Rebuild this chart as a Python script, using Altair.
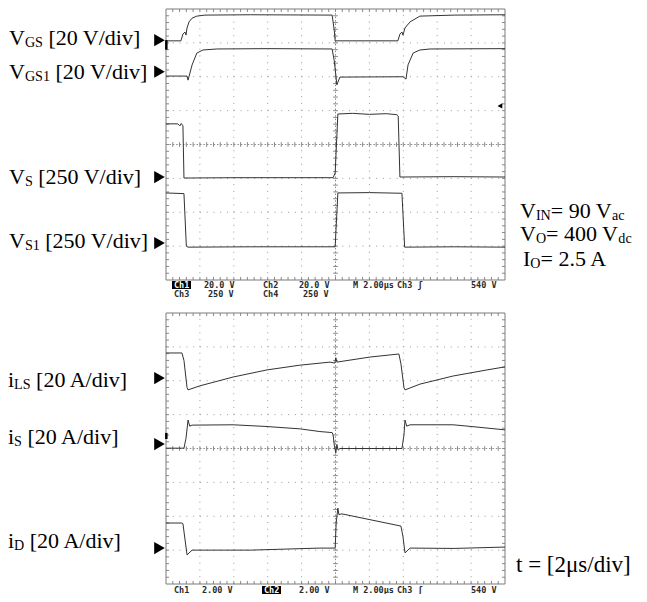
import altair as alt
import pandas as pd
import numpy as np

# ---- oscilloscope traces: t in divisions (2 us/div), level in screen divisions (0..8) ----
# upper screen
vgs_t = [0, 0.44, 0.50, 0.56, 0.59, 0.62, 0.68, 0.77, 0.91, 1.15, 2.5, 4.90, 4.96, 4.99, 6.84, 6.90, 6.96, 6.99, 7.05, 7.20, 7.49, 8.5, 10]
vgs_v = [7.06, 7.06, 7.26, 7.32, 7.23, 7.44, 7.62, 7.73, 7.79, 7.82, 7.83, 7.82, 7.40, 7.06, 7.06, 7.26, 7.32, 7.23, 7.44, 7.62, 7.79, 7.82, 7.83]

vgs1_t = [0, 0.62, 0.65, 0.77, 0.91, 1.09, 1.50, 3.0, 4.90, 4.96, 5.0, 5.04, 5.13, 6.99, 7.08, 7.14, 7.29, 7.49, 7.79, 10]
vgs1_v = [6.02, 6.02, 5.90, 6.35, 6.70, 6.79, 6.82, 6.83, 6.82, 6.49, 6.14, 5.76, 5.99, 6.00, 5.93, 6.35, 6.70, 6.79, 6.82, 6.83]

vs_t = [0, 0.35, 0.41, 0.45, 0.50, 0.53, 2.0, 4.93, 4.99, 5.07, 5.5, 6.0, 6.5, 6.81, 6.85, 6.90, 8.5, 10]
vs_v = [4.61, 4.61, 4.55, 4.62, 4.55, 3.01, 3.02, 3.02, 3.16, 4.90, 4.92, 4.89, 4.91, 4.88, 4.84, 3.04, 3.05, 3.04]

vs1_t = [0, 0.53, 0.60, 0.65, 2.5, 4.99, 5.07, 6.0, 6.96, 7.04, 8.5, 10]
vs1_v = [2.57, 2.55, 1.00, 0.97, 0.98, 0.98, 2.57, 2.58, 2.56, 0.97, 0.98, 0.97]

# lower screen
ils_t = [0, 0.47, 0.53, 0.62, 0.65, 1.00, 1.98, 2.98, 3.95, 4.84, 4.98, 5.01, 5.04, 6.02, 6.87, 6.93, 7.02, 7.05, 7.49, 8.47, 9.47, 10]
ils_v = [6.82, 6.82, 6.60, 5.80, 5.73, 5.85, 6.11, 6.32, 6.46, 6.55, 6.52, 6.68, 6.55, 6.70, 6.79, 6.50, 5.80, 5.73, 5.90, 6.14, 6.32, 6.41]

is_t = [0, 0.53, 0.59, 0.65, 0.70, 0.77, 1.98, 2.95, 3.95, 4.54, 4.90, 4.93, 4.97, 5.01, 5.04, 5.08, 5.13, 6.96, 7.02, 7.05, 7.10, 7.20, 8.47, 9.0, 10]
is_v = [4.01, 4.01, 4.30, 4.84, 4.66, 4.69, 4.70, 4.65, 4.58, 4.50, 4.47, 4.40, 4.05, 3.87, 4.12, 3.95, 4.00, 4.00, 4.40, 4.84, 4.66, 4.70, 4.70, 4.65, 4.55]

id_t = [0, 0.47, 0.50, 0.62, 0.77, 2.5, 4.54, 4.99, 5.02, 5.07, 5.10, 5.19, 6.93, 6.99, 7.05, 7.20, 8.5, 10]
id_v = [1.80, 1.80, 1.78, 0.86, 1.00, 1.00, 1.06, 1.06, 1.80, 2.24, 2.05, 2.07, 1.71, 1.40, 0.92, 1.06, 1.05, 1.09]

# ground-level markers (screen divisions)
top_markers = [7.08, 6.15, 3.04, 1.09]
bot_markers = [6.08, 4.13, 1.06]

# ---- text (pieces: m = normal, s = subscript); start x / baseline y in page pixels, font size ----
labels = [
    ([("V", "m"), ("GS", "s"), (" [20 V/div]", "m")], 9, 45, 22),
    ([("V", "m"), ("GS1", "s"), (" [20 V/div]", "m")], 9, 79, 22),
    ([("V", "m"), ("S", "s"), (" [250 V/div]", "m")], 9, 184, 22),
    ([("V", "m"), ("S1", "s"), (" [250 V/div]", "m")], 9, 248, 22),
    ([("V", "m"), ("IN", "s"), ("= 90 V", "m"), ("ac", "s")], 520, 218, 22),
    ([("V", "m"), ("O", "s"), ("= 400 V", "m"), ("dc", "s")], 520, 241, 22),
    ([("I", "m"), ("O", "s"), ("= 2.5 A", "m")], 523, 266, 22),
    ([("i", "m"), ("LS", "s"), (" [20 A/div]", "m")], 8, 387, 22),
    ([("i", "m"), ("S", "s"), (" [20 A/div]", "m")], 8, 444, 22),
    ([("i", "m"), ("D", "s"), (" [20 A/div]", "m")], 8, 548, 22),
    ([("t = [2\u03bcs/div]", "m")], 516, 572, 23),
]
status = [("Ch1", 174, 285), ("20.0 V", 204, 285), ("Ch2", 263, 285), ("20.0 V", 299, 285),
          ("M 2.00\u00b5s", 353, 285), ("Ch3 \u0283", 397, 285), ("540 V", 471, 285),
          ("Ch3", 174, 293.5), ("250 V", 208, 293.5), ("Ch4", 263, 293.5), ("250 V", 303, 293.5),
          ("Ch1", 174, 589.8), ("2.00 V", 202, 589.8), ("Ch2", 264, 589.8), ("2.00 V", 299, 589.8),
          ("M 2.00\u00b5s", 353, 589.8), ("Ch3 \u0283", 397, 589.8), ("540 V", 471, 589.8),
          ("Ch4", 264, 599), ("2.00 V", 299, 599)]
inverse_boxes = [(172, 191, 281, 289), (262, 281, 586, 594)]
inverse_text = [0, 13]

# ---- screen geometry (pixels) ----
PX0, PW = 166, 339
PTOP, PBOT = 9, 584           # top of upper screen, bottom of lower screen
SCR_H = 271
DX, DY = PW / 10, SCR_H / 8
TOP_OFF = (PBOT - 280) / DY   # upper screen baseline in global divisions
H = PBOT - PTOP
SUB_RATIO = 0.64
SERIF = "Liberation Serif"
TIMES_W = {'V': 722, 'G': 722, 'S': 556, '1': 500, 'I': 333, 'N': 722, 'O': 722, 'a': 444, 'c': 444,
           'd': 500, 'L': 611, 'D': 722, 'i': 278, ' ': 250, '[': 333, ']': 333, '/': 278, '=': 564,
           '.': 250, 'A': 722, 't': 278, '\u03bc': 500, 's': 389, 'v': 500}


def tw(s, size):
    return sum(TIMES_W.get(ch, 500) for ch in s) / 1000 * size


def gx(px):
    return (px - PX0) / DX


def gy(py):
    return (PBOT - py) / DY


X = alt.Scale(domain=[0, 10], nice=False, zero=False)
Y = alt.Scale(domain=[0, H / DY], nice=False, zero=False)
XE = dict(scale=X, axis=None)
YE = dict(scale=Y, axis=None)
GRID = "#9a9a9a"
TRACE = "#333333"


def screen_layers(off):
    layers = []
    vx = [1, 2, 3, 4, 6, 7, 8, 9]
    hy = [1, 2, 3, 5, 6, 7]
    vg = pd.DataFrame({"x": vx, "y": off, "y2": off + 8})
    layers.append(alt.Chart(vg).mark_rule(color=GRID, strokeWidth=1, strokeDash=[1, DY / 5 - 1])
                  .encode(x=alt.X("x:Q", **XE), y=alt.Y("y:Q", **YE), y2="y2:Q"))
    hg = pd.DataFrame({"y": [h + off for h in hy], "x": 0, "x2": 10})
    layers.append(alt.Chart(hg).mark_rule(color=GRID, strokeWidth=1, strokeDash=[1, DX / 5 - 1])
                  .encode(y=alt.Y("y:Q", **YE), x=alt.X("x:Q", **XE), x2="x2:Q"))
    cl = pd.DataFrame({"x": [5, 0], "x2": [5, 10], "y": [off, off + 4], "y2": [off + 8, off + 4]})
    layers.append(alt.Chart(cl).mark_rule(color="#8a8a8a", strokeWidth=1, strokeDash=[1.5, 1.9])
                  .encode(x=alt.X("x:Q", **XE), x2="x2:Q", y=alt.Y("y:Q", **YE), y2="y2:Q"))
    tl = 0.09
    ticks = []
    for k in range(1, 50):
        xv = k * 0.2
        ticks.append((xv, xv, off + 4 - 0.07, off + 4 + 0.07))
        ticks.append((xv, xv, off + 8 - tl, off + 8))
        ticks.append((xv, xv, off, off + tl))
    for k in range(1, 40):
        yv = off + k * 0.2
        ticks.append((5 - 0.07, 5 + 0.07, yv, yv))
        ticks.append((0, tl, yv, yv))
        ticks.append((10 - tl, 10, yv, yv))
    tdf = pd.DataFrame(ticks, columns=["x", "x2", "y", "y2"])
    layers.append(alt.Chart(tdf).mark_rule(color="#8a8a8a", strokeWidth=1).encode(
        x=alt.X("x:Q", **XE), x2="x2:Q", y=alt.Y("y:Q", **YE), y2="y2:Q"))
    border = pd.DataFrame({"x": [0], "x2": [10], "y": [off], "y2": [off + 8]})
    layers.append(alt.Chart(border).mark_rect(fillOpacity=0, stroke="#7a7a7a", strokeWidth=1).encode(
        x=alt.X("x:Q", **XE), x2="x2:Q", y=alt.Y("y:Q", **YE), y2="y2:Q"))
    return layers


def traces_layer(traces, off):
    frames = []
    for name, t, v in traces:
        frames.append(pd.DataFrame({"t": t, "v": [a + off for a in v], "trace": name, "i": range(len(t))}))
    df = pd.concat(frames)
    return alt.Chart(df).mark_line(color=TRACE, strokeWidth=1, strokeJoin="round").encode(
        x=alt.X("t:Q", **XE), y=alt.Y("v:Q", **YE), detail="trace:N", order="i:Q")


def markers_layer(levels, off):
    df = pd.DataFrame({"x": [gx(159.5)] * len(levels), "y": [l + off for l in levels]})
    return alt.Chart(df).mark_point(shape="triangle-right", filled=True, color="black", opacity=1,
                                    size=150, strokeWidth=0).encode(
        x=alt.X("x:Q", **XE), y=alt.Y("y:Q", **YE))


def labels_layers():
    rows = []
    for pieces, x0, base, fs in labels:
        x = x0
        for txt, kind in pieces:
            size = fs if kind == "m" else round(fs * SUB_RATIO, 1)
            lead = len(txt) - len(txt.lstrip(" "))
            x += tw(" " * lead, size)
            body = txt.lstrip(" ")
            rows.append({"x": gx(x), "y": gy(base), "text": body, "kind": kind, "fs": size})
            x += tw(body, size)
    df = pd.DataFrame(rows)
    base = alt.Chart(df)
    enc = dict(x=alt.X("x:Q", **XE), y=alt.Y("y:Q", **YE), text="text:N",
               size=alt.Size("fs:Q", scale=None, legend=None))
    main = base.transform_filter(alt.datum.kind == "m").mark_text(
        font=SERIF, align="left", baseline="alphabetic", color="black").encode(**enc)
    sub = base.transform_filter(alt.datum.kind == "s").mark_text(
        font=SERIF, align="left", baseline="alphabetic", color="black", dy=2).encode(**enc)
    return [main, sub]


def status_layers():
    bx = pd.DataFrame([{"x": gx(a), "x2": gx(b), "y": gy(c), "y2": gy(d)} for a, b, c, d in inverse_boxes])
    box = alt.Chart(bx).mark_rect(color="black").encode(
        x=alt.X("x:Q", **XE), x2="x2:Q", y=alt.Y("y:Q", **YE), y2="y2:Q")
    df = pd.DataFrame([{"x": gx(px), "y": gy(py), "text": t,
                        "col": "white" if i in inverse_text else "#2a2a2a"}
                       for i, (t, px, py) in enumerate(status)])
    txt = alt.Chart(df).mark_text(font="DejaVu Sans Mono", fontWeight="bold", fontSize=8.5,
                                  align="left", baseline="middle").encode(
        x=alt.X("x:Q", **XE), y=alt.Y("y:Q", **YE), text="text:N",
        color=alt.Color("col:N", scale=None, legend=None))
    return [box, txt]


extra_marker = alt.Chart(pd.DataFrame({"x": [9.85], "y": [5.14 + TOP_OFF]})).mark_point(
    shape="triangle-left", filled=True, color="black", opacity=1, size=30, strokeWidth=0).encode(
    x=alt.X("x:Q", **XE), y=alt.Y("y:Q", **YE))
bars = alt.Chart(pd.DataFrame({"x": [0.01, 0.01], "y": [7.08 + TOP_OFF, 4.46], "y2": [6.80 + TOP_OFF, 4.28]})).mark_rule(
    color="black", strokeWidth=2.5).encode(x=alt.X("x:Q", **XE), y=alt.Y("y:Q", **YE), y2="y2:Q")

chart = alt.layer(
    *screen_layers(TOP_OFF),
    *screen_layers(0),
    traces_layer([("VGS", vgs_t, vgs_v), ("VGS1", vgs1_t, vgs1_v), ("VS", vs_t, vs_v), ("VS1", vs1_t, vs1_v)], TOP_OFF),
    traces_layer([("iLS", ils_t, ils_v), ("iS", is_t, is_v), ("iD", id_t, id_v)], 0),
    markers_layer(top_markers, TOP_OFF), markers_layer(bot_markers, 0), extra_marker, bars,
    *labels_layers(),
    *status_layers(),
).properties(
    width=PW, height=H,
    autosize=alt.AutoSizeParams(type="none"),
    padding={"left": PX0 - 8, "top": PTOP - 8, "right": 647 - 16 - PX0 + 8 - PW, "bottom": 10},
).configure_view(stroke=None)

chart.save("out.html", embed_options={"renderer": "svg", "actions": False})
